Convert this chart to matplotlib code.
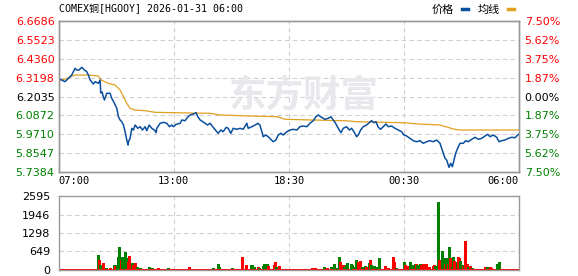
import matplotlib.pyplot as plt
import numpy as np

plt.rcParams['font.family'] = ['DejaVu Sans', 'Noto Sans CJK SC']

# axis levels and labels
price_ticks = [6.6686, 6.5523, 6.4360, 6.3198, 6.2035, 6.0872, 5.9710, 5.8547, 5.7384]
pct_labels = ['7.50%', '5.62%', '3.75%', '1.87%', '0.00%', '1.87%', '3.75%', '5.62%', '7.50%']
time_pos = [0, 345, 690, 1035, 1380]
time_labels = ['07:00', '13:00', '18:30', '00:30', '06:00']
vol_ticks = [0, 649, 1298, 1946, 2595]

# price line (minute index, price)
price_min = [1, 9, 19, 29, 39, 49, 54, 61, 69, 77, 84, 89, 94, 104, 109, 119, 124, 126, 130, 134,
             137, 144, 154, 159, 167, 174, 179, 184, 189, 194, 199, 204, 208, 209, 214, 219, 224, 229, 237, 244,
             251, 259, 264, 271, 279, 287, 292, 294, 304, 314, 324, 332, 339, 344, 352, 364, 369, 379, 386, 394,
             404, 412, 417, 424, 432, 439, 446, 454, 463, 474, 478, 486, 493, 502, 508, 516, 523, 534, 544, 553,
             564, 568, 579, 589, 597, 603, 609, 613, 621, 628, 636, 643, 651, 658, 666, 673, 684, 693, 703, 714,
             723, 733, 744, 753, 763, 771, 778, 788, 798, 808, 816, 823, 830, 838, 846, 853, 863, 871, 878, 885,
             893, 898, 905, 913, 923, 931, 938, 945, 951, 958, 965, 973, 981, 988, 998, 1008, 1018, 1028, 1035, 1043,
             1053, 1063, 1073, 1083, 1093, 1103, 1113, 1123, 1133, 1138, 1143, 1148, 1153, 1158, 1163, 1168, 1170, 1175, 1180, 1185,
             1190, 1196, 1203, 1213, 1220, 1228, 1238, 1248, 1258, 1268, 1278, 1286, 1293, 1303, 1313, 1320, 1328, 1338, 1348, 1358,
             1368, 1376, 1380]
price = [6.3124, 6.3063, 6.2958, 6.3168, 6.3371, 6.3785, 6.3680, 6.3680, 6.3847, 6.3680, 6.3575, 6.3371, 6.3063, 6.2816, 6.2958, 6.2859, 6.3063, 6.2260, 6.2322, 6.2013,
         6.1828, 6.2242, 6.2242, 6.1933, 6.1625, 6.1316, 6.0797, 6.0594, 6.0489, 6.0285, 5.9872, 5.9359, 5.9051, 5.9254, 5.9464, 6.0081, 5.9976, 6.0285, 6.0081, 6.0180,
         5.9976, 6.0180, 5.9933, 6.0285, 6.0081, 5.9976, 5.9810, 6.0081, 6.0390, 6.0452, 6.0390, 6.0180, 6.0285, 6.0180, 6.0328, 6.0390, 6.0594, 6.0550, 6.0760, 6.0902,
         6.0964, 6.1044, 6.0797, 6.0594, 6.0489, 6.0390, 6.0285, 6.0390, 6.0143, 5.9872, 5.9773, 5.9976, 5.9872, 6.0143, 6.0081, 5.9773, 6.0081, 6.0020, 6.0081, 6.0020,
         6.0390, 6.0081, 6.0180, 6.0285, 6.0390, 6.0285, 5.9872, 5.9563, 5.9668, 5.9563, 5.9402, 5.9254, 5.9359, 5.9668, 5.9773, 5.9668, 5.9872, 5.9976, 6.0020, 5.9976,
         6.0180, 6.0223, 6.0180, 6.0390, 6.0550, 6.0797, 6.0902, 6.0760, 6.0637, 6.0699, 6.0797, 6.0594, 6.0390, 6.0081, 5.9810, 6.0081, 6.0180, 5.9976, 6.0081, 5.9872,
         5.9563, 5.9668, 5.9976, 6.0180, 6.0285, 6.0427, 6.0550, 6.0427, 6.0489, 6.0143, 6.0020, 6.0180, 6.0347, 6.0180, 6.0223, 6.0081, 5.9976, 5.9872, 5.9668, 5.9606,
         5.9464, 5.9316, 5.9254, 5.9316, 5.9156, 5.9254, 5.9316, 5.9254, 5.9359, 5.9254, 5.9156, 5.8847, 5.8538, 5.8230, 5.8125, 5.7816, 5.7674, 5.7921, 5.7711, 5.8125,
         5.8538, 5.8847, 5.9156, 5.9156, 5.9316, 5.9254, 5.9402, 5.9526, 5.9402, 5.9464, 5.9606, 5.9711, 5.9563, 5.9668, 5.9526, 5.9254, 5.9316, 5.9359, 5.9464, 5.9526,
         5.9501, 5.9668, 5.9730]

# average line
avg_min = [1, 19, 49, 89, 119, 127, 148, 169, 184, 194, 204, 214, 229, 259, 289, 344, 454, 484, 574, 657,
           678, 758, 858, 893, 1033, 1078, 1143, 1152, 1167, 1182, 1203, 1380]
avg = [6.3020, 6.3124, 6.3371, 6.3371, 6.3310, 6.3063, 6.2859, 6.2754, 6.2445, 6.2032, 6.1625, 6.1316, 6.1211, 6.1168, 6.1069, 6.1044, 6.1007, 6.0902, 6.0841, 6.0797,
       6.0637, 6.0594, 6.0550, 6.0489, 6.0427, 6.0347, 6.0285, 6.0223, 6.0143, 6.0038, 5.9976, 5.9976]

# volume bars that stand out (minute, volume, colour); the rest sit at vol_base
vol_min = [119, 122, 124, 134, 142, 154, 166, 169, 176, 179, 182, 186, 189, 192, 196, 200, 204, 208, 212, 216,
           220, 224, 229, 234, 244, 272, 279, 299, 329, 392, 464, 476, 480, 519, 550, 561, 576, 579, 586, 596,
           601, 612, 616, 624, 627, 644, 647, 652, 661, 758, 768, 796, 803, 816, 826, 835, 841, 844, 848, 851,
           855, 861, 865, 877, 880, 885, 890, 893, 898, 904, 908, 918, 921, 931, 933, 937, 944, 954, 957, 961,
           978, 988, 1003, 1006, 1011, 1035, 1038, 1043, 1048, 1054, 1058, 1062, 1068, 1071, 1075, 1083, 1087, 1091, 1095, 1099,
           1102, 1111, 1121, 1125, 1128, 1135, 1138, 1141, 1145, 1148, 1151, 1154, 1157, 1160, 1163, 1166, 1169, 1172, 1175, 1178,
           1181, 1184, 1187, 1190, 1193, 1196, 1199, 1202, 1205, 1208, 1211, 1214, 1217, 1220, 1223, 1226, 1232, 1239, 1279, 1285,
           1293, 1296, 1315, 1318, 1321]
vol = [518, 340, 165, 224, 70, 70, 165, 140, 165, 460, 813, 340, 460, 165, 283, 613, 400, 283, 483, 165,
       224, 165, 224, 100, 70, 94, 70, 70, 70, 94, 70, 200, 100, 70, 460, 165, 165, 165, 80, 94,
       70, 130, 190, 190, 130, 165, 260, 94, 130, 70, 70, 94, 50, 94, 200, 70, 448, 260, 140, 165,
       94, 165, 236, 190, 165, 94, 340, 140, 260, 306, 94, 130, 94, 236, 340, 165, 118, 94, 94, 412,
       130, 50, 448, 270, 70, 260, 165, 94, 118, 260, 165, 70, 200, 200, 165, 200, 165, 200, 165, 200,
       200, 94, 118, 165, 118, 130, 2380, 340, 106, 660, 400, 283, 190, 400, 306, 212, 801, 400, 224, 106,
       448, 306, 212, 165, 260, 448, 400, 306, 106, 165, 140, 165, 1013, 165, 212, 106, 130, 70, 94, 94,
       94, 60, 212, 165, 270]
vol_dir = list('GRGRGRGRGGGRGGGGGRRR'
               'GRRGGGGRGRGGGGRRGGGR'
               'GGGGRRRGRRRGRGGGGRRR'
               'GGGGGGGGRRGGRGRGGGGG'
               'RRRRGGRRRGGGGRGGRRRR'
               'RRRRGGGRRGGGRGGRGRRG'
               'GRRRGRRGGGRGRRRGRGRG'
               'RRGGG')
vol_base = 35

n_min = 1381
vol_all = np.full(n_min, vol_base, dtype=float)
col_all = np.array(['#ff0000'] * n_min, dtype=object)
for m, v, d in zip(vol_min, vol, vol_dir):
    vol_all[m] = v
    col_all[m] = '#008000' if d == 'G' else '#ff0000'

fig = plt.figure(figsize=(5.78, 2.76), dpi=100)
ax = fig.add_axes([0.1016, 0.3768, 0.7964, 0.546])
axv = fig.add_axes([0.1016, 0.0228, 0.7964, 0.266])

grid_kw = dict(color='#d0d0d0', linewidth=0.8, linestyle=(0, (4, 3)))
spine_col = '#999999'

# main price panel
ax.set_xlim(0, 1380)
ax.set_ylim(price_ticks[-1], price_ticks[0])
for p in price_ticks[1:-1]:
    ax.axhline(p, zorder=0, **grid_kw)
for t in time_pos[1:-1]:
    ax.axvline(t, zorder=0, **grid_kw)

ax.text(736, 6.2075, '东方财富', fontsize=27, fontweight='bold', color='#e8e8ec',
        ha='center', va='center', family=['Noto Sans CJK SC'], zorder=0.5, style='italic')

ax.plot(avg_min, avg, color='#e0a020', linewidth=0.9, zorder=2)
ax.plot(price_min, price, color='#0a4f9e', linewidth=1.1, zorder=3)

ax.set_yticks(price_ticks)
ax.set_yticklabels(['%.4f' % p for p in price_ticks], fontsize=8)
lab_cols = ['#ff0000'] * 4 + ['#000000'] + ['#008000'] * 4
for lab, c in zip(ax.get_yticklabels(), lab_cols):
    lab.set_color(c)
ax.set_xticks(time_pos)
ax.set_xticklabels(time_labels, fontsize=7.5, family='DejaVu Sans Mono')
xl = ax.get_xticklabels()
xl[0].set_ha('left')
xl[-1].set_ha('right')
ax.tick_params(length=0, pad=3)

axr = ax.twinx()
axr.set_ylim(price_ticks[-1], price_ticks[0])
axr.set_yticks(price_ticks)
axr.set_yticklabels(pct_labels, fontsize=8)
for lab, c in zip(axr.get_yticklabels(), lab_cols):
    lab.set_color(c)
axr.tick_params(length=0, pad=4)

for a in (ax, axr, axv):
    for s in a.spines.values():
        s.set_color(spine_col)
        s.set_linewidth(1)

# volume panel
axv.set_xlim(0, 1380)
axv.set_ylim(0, 2595)
for v in vol_ticks[1:-1]:
    axv.axhline(v, zorder=0, **grid_kw)
for t in time_pos[1:-1]:
    axv.axvline(t, zorder=0, **grid_kw)
axv.vlines(np.arange(n_min), 0, vol_all, colors=list(col_all), linewidth=0.75,
           antialiased=False, zorder=2)
axv.set_yticks(vol_ticks)
axv.set_yticklabels([str(v) for v in vol_ticks], fontsize=8)
axv.set_xticks([])
axv.tick_params(length=0, pad=6)

# header
fig.text(0.1016, 0.967, 'COMEX铜[HGOOY] 2026-01-31 06:00', fontsize=7.2,
         family=['DejaVu Sans Mono', 'Noto Sans CJK SC'], va='center', ha='left')
fig.text(454 / 578, 0.965, '价格', fontsize=8, family=['Noto Sans CJK SC'], ha='right', va='center')
fig.text(500 / 578, 0.965, '均线', fontsize=8, family=['Noto Sans CJK SC'], ha='right', va='center')
fig.add_artist(plt.Line2D([462 / 578, 468 / 578], [0.968, 0.968], color='#0a4f9e', linewidth=2.5))
fig.add_artist(plt.Line2D([508 / 578, 514 / 578], [0.968, 0.968], color='#e0a020', linewidth=2.5))

fig.savefig('out.png', dpi=100)
